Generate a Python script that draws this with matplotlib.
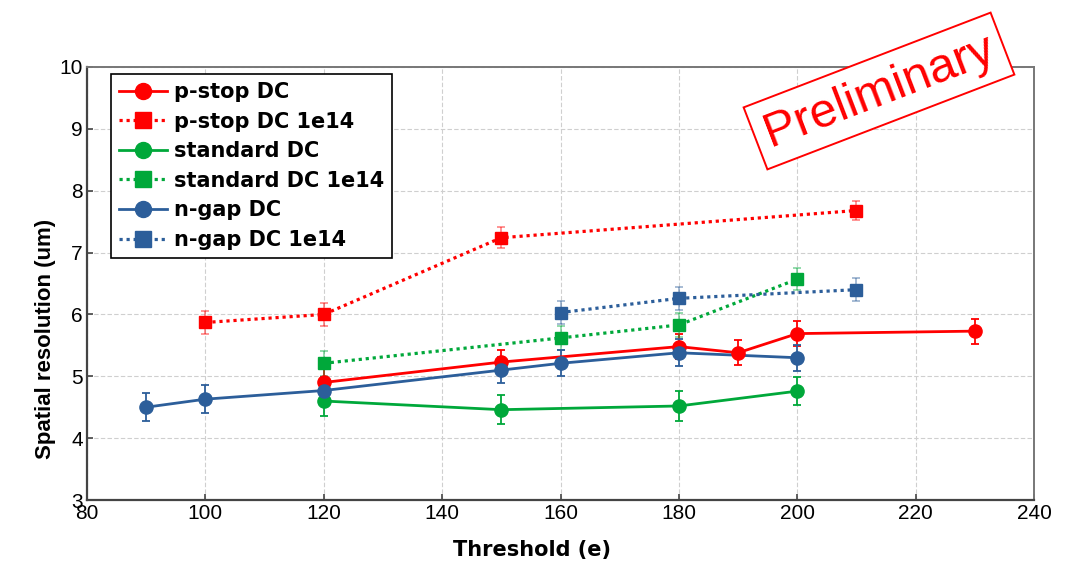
import matplotlib
matplotlib.use("Agg")
import matplotlib.pyplot as plt
from matplotlib.lines import Line2D

plt.rcParams['font.family'] = ['Liberation Sans', 'DejaVu Sans']

# ---- data ----
pstop_x = [120, 150, 180, 190, 200, 230]
pstop_y = [4.90, 5.23, 5.48, 5.38, 5.69, 5.73]
pstop_e = [0.21, 0.20, 0.20, 0.20, 0.20, 0.20]

pstop14_x = [100, 120, 150, 210]
pstop14_y = [5.87, 6.00, 7.24, 7.68]
pstop14_e = [0.19, 0.19, 0.17, 0.16]

std_x = [120, 150, 180, 200]
std_y = [4.60, 4.46, 4.52, 4.76]
std_e = [0.24, 0.23, 0.24, 0.23]

std14_x = [120, 160, 180, 200]
std14_y = [5.21, 5.62, 5.83, 6.57]
std14_e = [0.20, 0.20, 0.20, 0.18]

ngap_x = [90, 100, 120, 150, 160, 180, 200]
ngap_y = [4.50, 4.63, 4.77, 5.10, 5.21, 5.38, 5.30]
ngap_e = [0.23, 0.23, 0.22, 0.21, 0.21, 0.22, 0.21]

ngap14_x = [160, 180, 210]
ngap14_y = [6.03, 6.26, 6.40]
ngap14_e = [0.19, 0.19, 0.19]

x_ticks = [80, 100, 120, 140, 160, 180, 200, 220, 240]
y_ticks = [3, 4, 5, 6, 7, 8, 9, 10]

RED = '#ff0000'
GREEN = '#00a83a'
BLUE = '#2c5e9a'

fig = plt.figure(figsize=(10.76, 5.69), dpi=100)
ax = fig.add_axes([87/1076, 1 - 500/569, (1034-87)/1076, (500-67)/569])

series = [
    (pstop_x, pstop_y, pstop_e, RED, 'o', '-', 'p-stop DC'),
    (pstop14_x, pstop14_y, pstop14_e, RED, 's', ':', 'p-stop DC 1e14'),
    (std_x, std_y, std_e, GREEN, 'o', '-', 'standard DC'),
    (std14_x, std14_y, std14_e, GREEN, 's', ':', 'standard DC 1e14'),
    (ngap_x, ngap_y, ngap_e, BLUE, 'o', '-', 'n-gap DC'),
    (ngap14_x, ngap14_y, ngap14_e, BLUE, 's', ':', 'n-gap DC 1e14'),
]

DOT = (0, (1, 1.2))
handles = []
for x, y, e, c, m, ls, lab in series:
    dotted = ls == ':'
    ax.errorbar(x, y, yerr=e, fmt='none', ecolor=c, elinewidth=1.3,
                capsize=3.2, capthick=1.3, alpha=0.45 if dotted else 1.0, zorder=3)
    if dotted:
        ax.plot(x, y, color=c, linestyle=DOT, linewidth=2.3, zorder=4)
    else:
        ax.plot(x, y, color=c, linestyle='-', linewidth=2.0, zorder=4)
    ax.plot(x, y, linestyle='none', marker=m, markersize=9.5 if m == 'o' else 9.0,
            color=c, markeredgecolor=c, zorder=5)
    handles.append(Line2D([], [], color=c,
                          linestyle=DOT if dotted else '-',
                          linewidth=2.3 if dotted else 2.0,
                          marker=m, markersize=11.5 if m == 'o' else 11, label=lab))

ax.set_xlim(80, 240)
ax.set_ylim(3, 10)
ax.set_xticks(x_ticks)
ax.set_yticks(y_ticks)
ax.tick_params(direction='in', length=4, width=1.2, color='#444444',
               labelsize=15, pad=3, top=False, right=False)
ax.grid(True, color='#cfcfcf', linestyle=(0, (4, 2)), linewidth=0.8, zorder=0)
ax.set_axisbelow(True)

for s in ['left', 'bottom']:
    ax.spines[s].set_color('#444444')
    ax.spines[s].set_linewidth(1.6)
ax.spines['right'].set_color('#777777')
ax.spines['right'].set_linewidth(1.4)
ax.spines['top'].set_color('#777777')
ax.spines['top'].set_linewidth(1.4)
ax.spines['top'].set_linestyle((0, (2, 1)))

ax.set_xlabel('Threshold (e)', fontsize=15, fontweight='bold',
              family=['DejaVu Sans'])
ax.set_ylabel('Spatial resolution (um)', fontsize=16, fontweight='bold')
ax.xaxis.set_label_coords(0.4696, -0.1155)
ax.xaxis.label.set_va('center')
ax.yaxis.set_label_coords(-0.0433, 0.373)
ax.yaxis.label.set_va('center')

leg = ax.legend(handles=handles, loc='upper left', bbox_to_anchor=(0.0253, 0.9838),
                prop={'family': 'DejaVu Sans', 'size': 15, 'weight': 'bold'},
                frameon=True, fancybox=False,
                edgecolor='black', framealpha=1, handlelength=2.3, labelspacing=0.46,
                borderpad=0.38, handletextpad=0.35, borderaxespad=0)
leg.get_frame().set_linewidth(1.2)

fig.text(879/1076, 1 - 91/569, 'Preliminary', fontsize=35, color=RED,
         rotation=21, ha='center', va='center', rotation_mode='anchor',
         bbox=dict(boxstyle='square,pad=0.22', facecolor='white', edgecolor=RED,
                   linewidth=1.4), zorder=10)

fig.savefig('out.png', dpi=100)
